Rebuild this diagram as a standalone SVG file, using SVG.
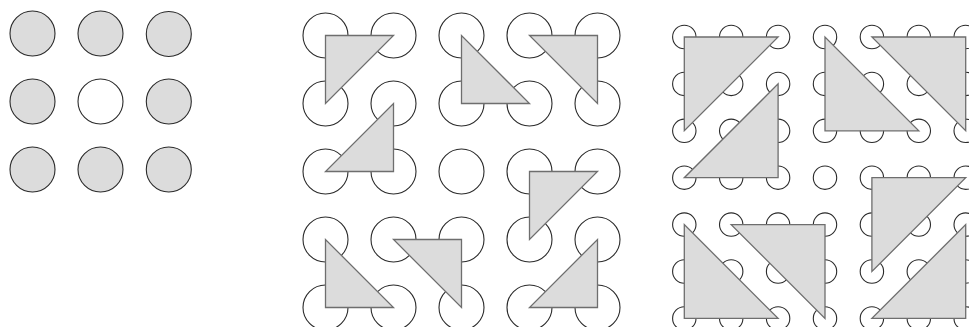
<svg xmlns="http://www.w3.org/2000/svg" width="969" height="327" viewBox="0 0 969 327">
<style>
.bg{fill:#ffffff}
.c{fill:#ffffff;stroke:#2a2a2a;stroke-width:1.1}
.cf{fill:#dcdcdc;stroke:#2a2a2a;stroke-width:1.1}
.t{fill:#dcdcdc;stroke:#6e6e6e;stroke-width:1.3;stroke-linejoin:miter}
</style>
<rect class="bg" x="0" y="0" width="969" height="327"/>
<g id="panel-left">
<circle class="cf" cx="32.5" cy="33.5" r="22.5"/>
<circle class="cf" cx="100.5" cy="33.5" r="22.5"/>
<circle class="cf" cx="168.8" cy="34" r="22.5"/>
<circle class="cf" cx="32.5" cy="101.5" r="22.5"/>
<circle class="c" cx="100.5" cy="101.5" r="22.5"/>
<circle class="cf" cx="168.8" cy="101.5" r="22.5"/>
<circle class="cf" cx="32.5" cy="169.5" r="22.5"/>
<circle class="cf" cx="100.5" cy="169.5" r="22.5"/>
<circle class="cf" cx="168.8" cy="169.5" r="22.5"/>
</g>
<g id="panel-middle">
<g id="middle-circles">
<circle class="c" cx="325.5" cy="35.5" r="22.5"/><circle class="c" cx="393.5" cy="35.5" r="22.5"/><circle class="c" cx="461.5" cy="35.5" r="22.5"/><circle class="c" cx="529.5" cy="35.5" r="22.5"/><circle class="c" cx="597.5" cy="35.5" r="22.5"/>
<circle class="c" cx="325.5" cy="103.5" r="22.5"/><circle class="c" cx="393.5" cy="103.5" r="22.5"/><circle class="c" cx="461.5" cy="103.5" r="22.5"/><circle class="c" cx="529.5" cy="103.5" r="22.5"/><circle class="c" cx="597.5" cy="103.5" r="22.5"/>
<circle class="c" cx="325.5" cy="171.5" r="22.5"/><circle class="c" cx="393.5" cy="171.5" r="22.5"/><circle class="c" cx="461.5" cy="171.5" r="22.5"/><circle class="c" cx="529.5" cy="171.5" r="22.5"/><circle class="c" cx="597.5" cy="171.5" r="22.5"/>
<circle class="c" cx="325.5" cy="239.5" r="22.5"/><circle class="c" cx="393.5" cy="239.5" r="22.5"/><circle class="c" cx="461.5" cy="239.5" r="22.5"/><circle class="c" cx="529.5" cy="239.5" r="22.5"/><circle class="c" cx="597.5" cy="239.5" r="22.5"/>
<circle class="c" cx="325.5" cy="307.5" r="22.5"/><circle class="c" cx="393.5" cy="307.5" r="22.5"/><circle class="c" cx="461.5" cy="307.5" r="22.5"/><circle class="c" cx="529.5" cy="307.5" r="22.5"/><circle class="c" cx="597.5" cy="307.5" r="22.5"/>
</g>
<g id="middle-triangles">
<polygon class="t" points="325.5,35.5 393.5,35.5 325.5,103.5"/>
<polygon class="t" points="393.5,103.5 393.5,171.5 325.5,171.5"/>
<polygon class="t" points="461.5,35.5 461.5,103.5 529.5,103.5"/>
<polygon class="t" points="529.5,35.5 597.5,35.5 597.5,103.5"/>
<polygon class="t" points="325.5,239.5 325.5,307.5 393.5,307.5"/>
<polygon class="t" points="393.5,239.5 461.5,239.5 461.5,307.5"/>
<polygon class="t" points="529.5,171.5 597.5,171.5 529.5,239.5"/>
<polygon class="t" points="597.5,239.5 597.5,307.5 529.5,307.5"/>
</g>
</g>
<g id="panel-right">
<g id="right-circles">
<circle class="c" cx="684.3" cy="37" r="11.7"/><circle class="c" cx="731.2" cy="37" r="11.7"/><circle class="c" cx="778.1" cy="37" r="11.7"/><circle class="c" cx="825" cy="37" r="11.7"/><circle class="c" cx="871.9" cy="37" r="11.7"/><circle class="c" cx="918.8" cy="37" r="11.7"/><circle class="c" cx="965.7" cy="37" r="11.7"/>
<circle class="c" cx="684.3" cy="83.9" r="11.7"/><circle class="c" cx="731.2" cy="83.9" r="11.7"/><circle class="c" cx="778.1" cy="83.9" r="11.7"/><circle class="c" cx="825" cy="83.9" r="11.7"/><circle class="c" cx="871.9" cy="83.9" r="11.7"/><circle class="c" cx="918.8" cy="83.9" r="11.7"/><circle class="c" cx="965.7" cy="83.9" r="11.7"/>
<circle class="c" cx="684.3" cy="130.8" r="11.7"/><circle class="c" cx="731.2" cy="130.8" r="11.7"/><circle class="c" cx="778.1" cy="130.8" r="11.7"/><circle class="c" cx="825" cy="130.8" r="11.7"/><circle class="c" cx="871.9" cy="130.8" r="11.7"/><circle class="c" cx="918.8" cy="130.8" r="11.7"/><circle class="c" cx="965.7" cy="130.8" r="11.7"/>
<circle class="c" cx="684.3" cy="177.7" r="11.7"/><circle class="c" cx="731.2" cy="177.7" r="11.7"/><circle class="c" cx="778.1" cy="177.7" r="11.7"/><circle class="c" cx="825" cy="177.7" r="11.7"/><circle class="c" cx="871.9" cy="177.7" r="11.7"/><circle class="c" cx="918.8" cy="177.7" r="11.7"/><circle class="c" cx="965.7" cy="177.7" r="11.7"/>
<circle class="c" cx="684.3" cy="224.6" r="11.7"/><circle class="c" cx="731.2" cy="224.6" r="11.7"/><circle class="c" cx="778.1" cy="224.6" r="11.7"/><circle class="c" cx="825" cy="224.6" r="11.7"/><circle class="c" cx="871.9" cy="224.6" r="11.7"/><circle class="c" cx="918.8" cy="224.6" r="11.7"/><circle class="c" cx="965.7" cy="224.6" r="11.7"/>
<circle class="c" cx="684.3" cy="271.5" r="11.7"/><circle class="c" cx="731.2" cy="271.5" r="11.7"/><circle class="c" cx="778.1" cy="271.5" r="11.7"/><circle class="c" cx="825" cy="271.5" r="11.7"/><circle class="c" cx="871.9" cy="271.5" r="11.7"/><circle class="c" cx="918.8" cy="271.5" r="11.7"/><circle class="c" cx="965.7" cy="271.5" r="11.7"/>
<circle class="c" cx="684.3" cy="318.4" r="11.7"/><circle class="c" cx="731.2" cy="318.4" r="11.7"/><circle class="c" cx="778.1" cy="318.4" r="11.7"/><circle class="c" cx="825" cy="318.4" r="11.7"/><circle class="c" cx="871.9" cy="318.4" r="11.7"/><circle class="c" cx="918.8" cy="318.4" r="11.7"/><circle class="c" cx="965.7" cy="318.4" r="11.7"/>
</g>
<g id="right-triangles">
<polygon class="t" points="684.3,37 778.1,37 684.3,130.8"/>
<polygon class="t" points="778.1,83.9 778.1,177.7 684.3,177.7"/>
<polygon class="t" points="825,37 825,130.8 918.8,130.8"/>
<polygon class="t" points="871.9,37 965.7,37 965.7,130.8"/>
<polygon class="t" points="684.3,224.6 684.3,318.4 778.1,318.4"/>
<polygon class="t" points="731.2,224.6 825,224.6 825,318.4"/>
<polygon class="t" points="871.9,177.7 965.7,177.7 871.9,271.5"/>
<polygon class="t" points="965.7,224.6 965.7,318.4 871.9,318.4"/>
</g>
</g>
</svg>
